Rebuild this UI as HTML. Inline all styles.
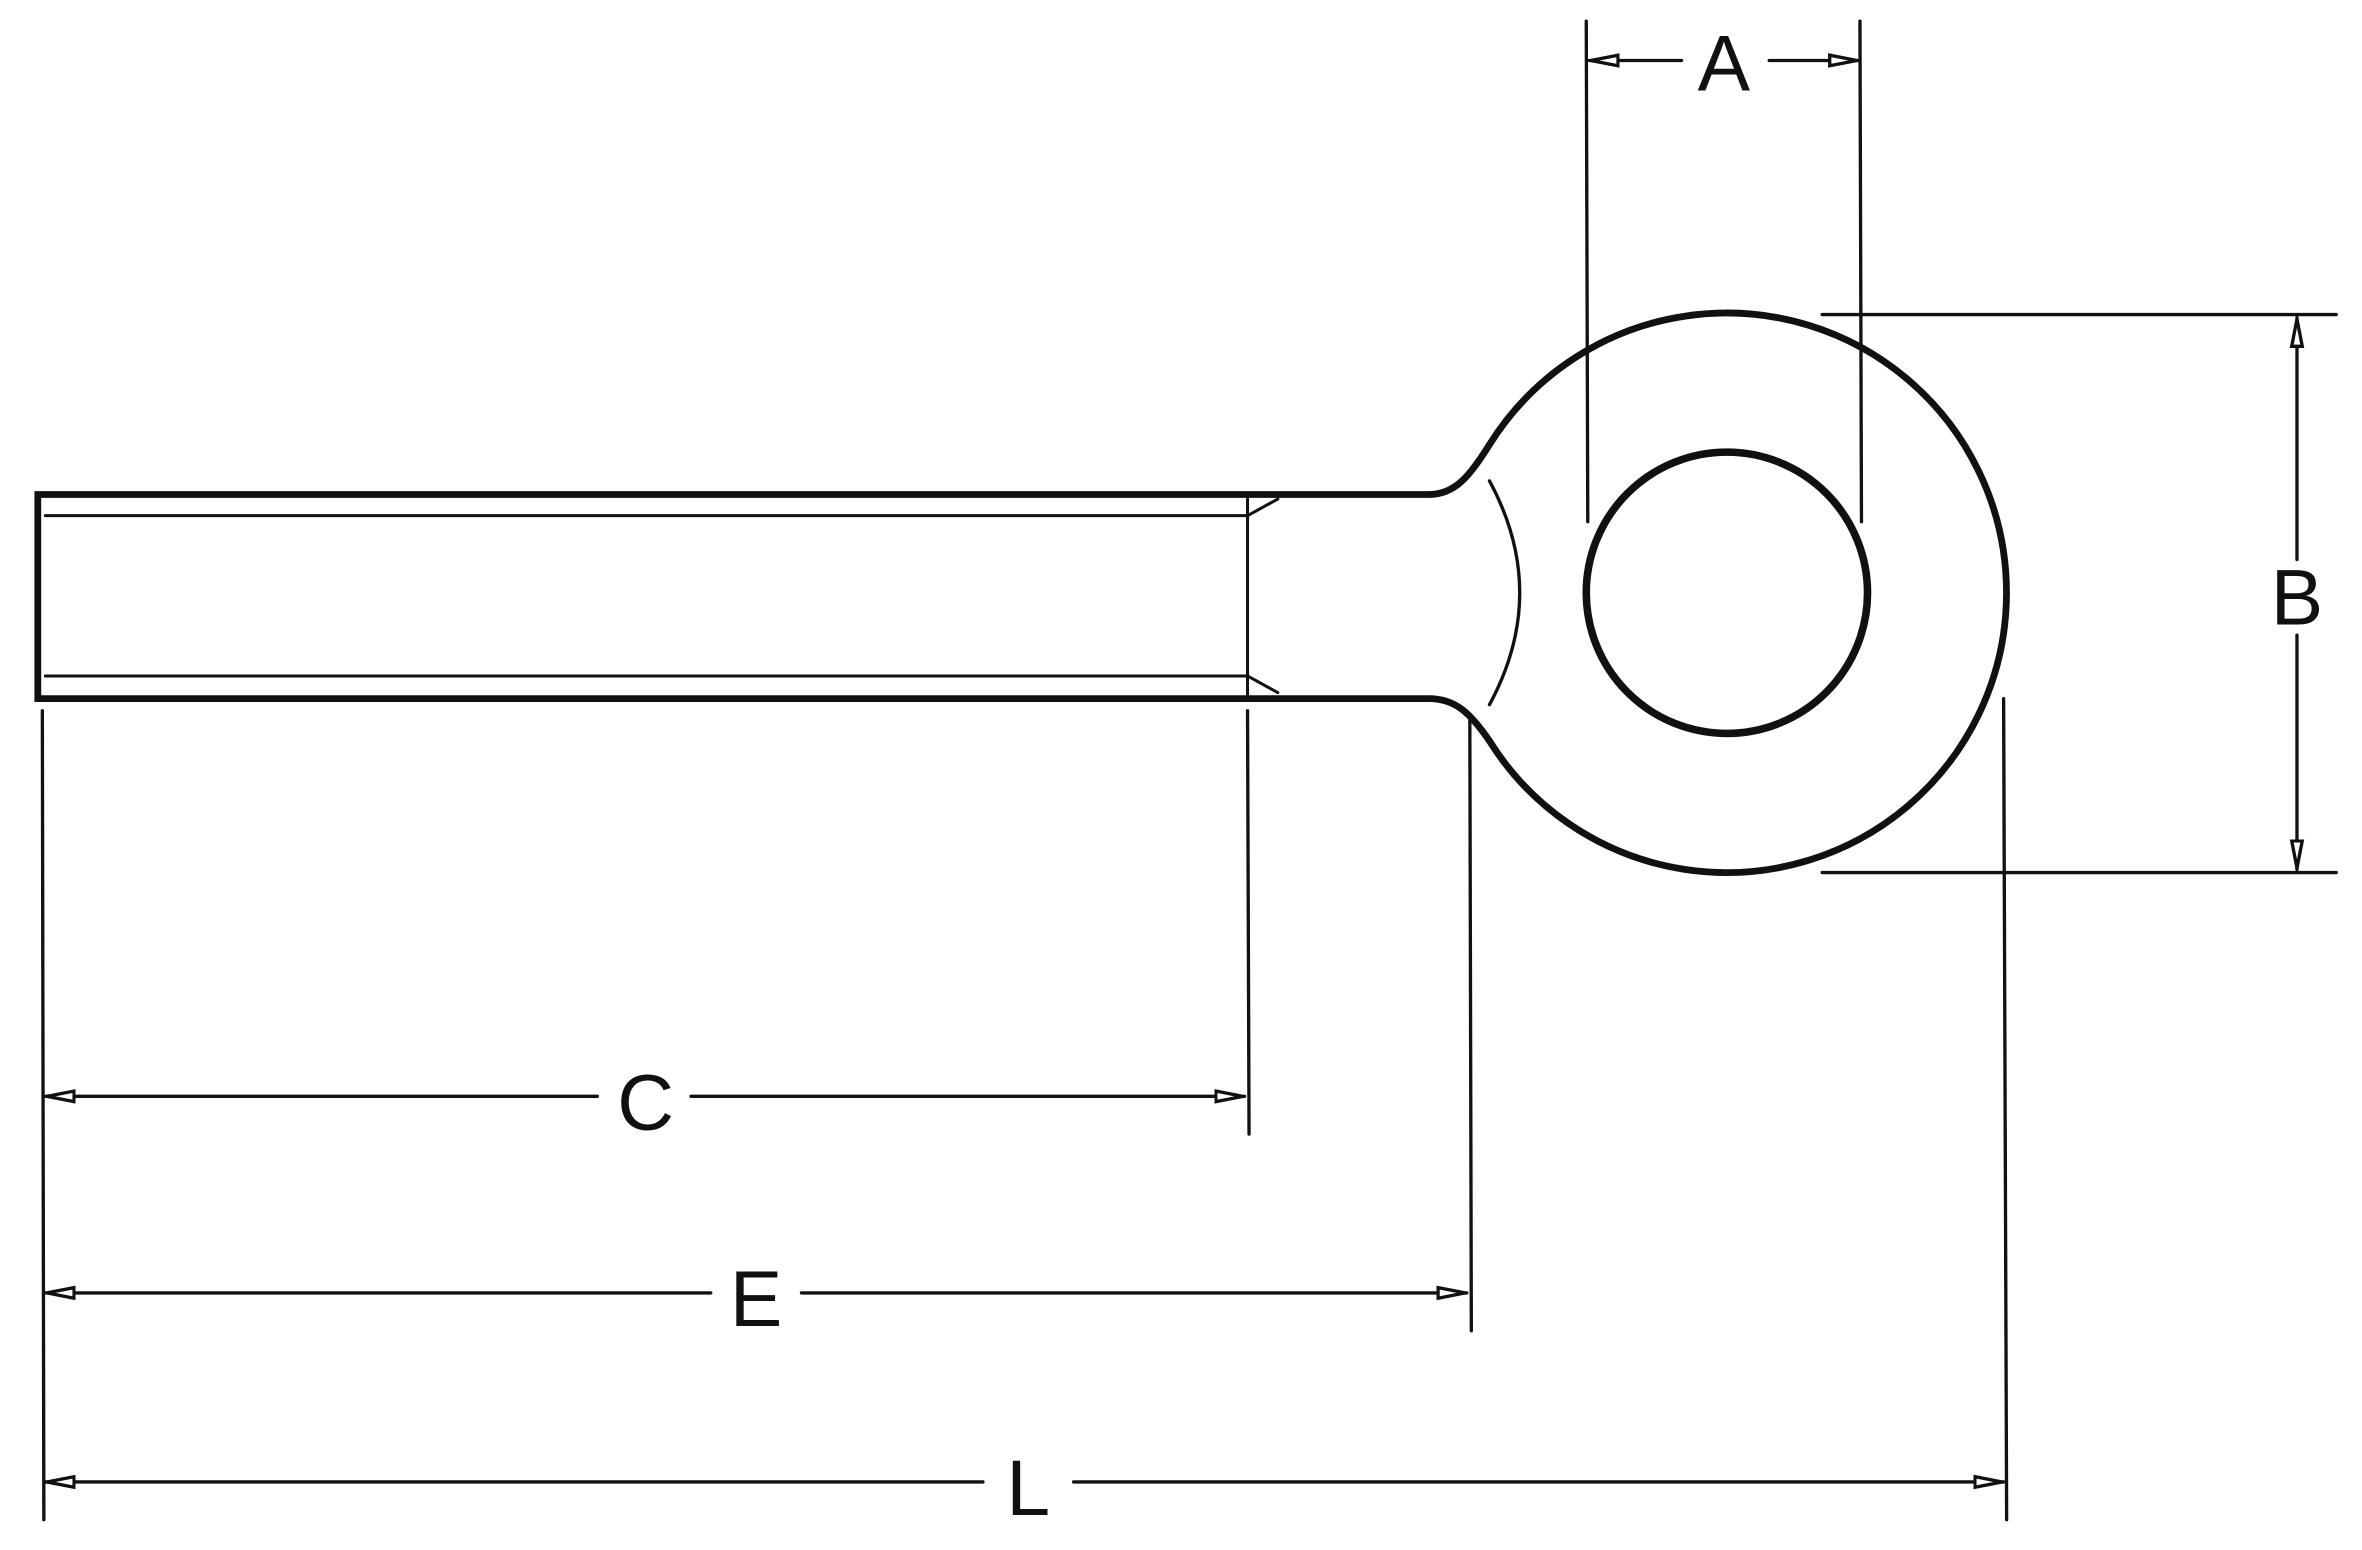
<!DOCTYPE html>
<html><head><meta charset="utf-8"><style>html,body{margin:0;padding:0;background:#fff;}svg{display:block}</style></head><body>
<svg width="2362" height="1550" viewBox="0 0 1562 1025" preserveAspectRatio="none" xmlns="http://www.w3.org/2000/svg">
<defs>
<marker id="ar" viewBox="0 0 20 10" refX="20" refY="5" markerWidth="20" markerHeight="10" markerUnits="userSpaceOnUse" orient="auto">
<path d="M1,1.5 L19,5 L1,8.5 Z" fill="#fff" stroke="#111" stroke-width="2.2"/>
</marker>
</defs>
<g fill="none" stroke="#111" stroke-linecap="round">
<path d="M25,327 L945,327 C962,327 972,315 985,294 A185,185 0 1 1 985,490 C972,471 962,462 945,462 L25,462 Z" stroke-width="4.5"/>
<path d="M30,341 L825,341 M30,447 L825,447" stroke-width="2"/>
<path d="M825,330 L825,460 M825,341 L845,330 M825,447 L845,458" stroke-width="2"/>
<path d="M985,318 Q1025,392 985,466" stroke-width="2.2"/>
<circle cx="1142" cy="392" r="93" stroke-width="5"/>
<g stroke-width="2.2">
<path d="M1049,14 L1050,345 M1230,14 L1231,345"/>
<path d="M1205,208 L1545,208 M1205,577 L1545,577"/>
<path d="M28,470 L29,1005 M825,470 L826,750 M972,475 L973,880 M1325,462 L1327,1005"/>
</g>
<g stroke-width="2.2" marker-end="url(#ar)">
<path d="M1112,40 L1051,40"/>
<path d="M1170,40 L1229,40"/>
<path d="M1519,370 L1519,210"/>
<path d="M1519,420 L1519,575"/>
<path d="M395,725 L30,725"/>
<path d="M457,725 L823,725"/>
<path d="M470,855 L30,855"/>
<path d="M530,855 L970,855"/>
<path d="M650,980 L30,980"/>
<path d="M710,980 L1325,980"/>
</g>
</g>
<g font-family="Liberation Sans, sans-serif" font-size="52" fill="#111" text-anchor="middle">
<text x="1140" y="60">A</text>
<text x="1519" y="413">B</text>
<text x="427" y="747">C</text>
<text x="500" y="877">E</text>
<text x="680" y="1002">L</text>
</g>
</svg>
</body></html>
